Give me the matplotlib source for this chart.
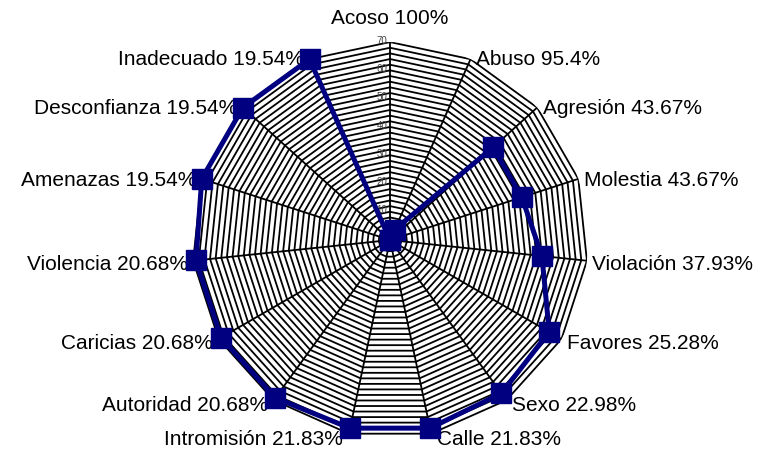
import numpy as np
import matplotlib
matplotlib.use("Agg")
import matplotlib.pyplot as plt

plt.rcParams["font.family"] = ["Liberation Sans", "DejaVu Sans"]

categories = ["Acoso", "Abuso", "Agresión", "Molestia", "Violación", "Favores",
              "Sexo", "Calle", "Intromisión", "Autoridad", "Caricias",
              "Violencia", "Amenazas", "Desconfianza", "Inadecuado"]
percent = [100, 95.4, 43.67, 43.67, 37.93, 25.28, 22.98, 21.83, 21.83,
           20.68, 20.68, 20.68, 19.54, 19.54, 19.54]
values = [0, 4, 49, 49, 54, 65, 67, 68, 68, 69, 69, 69, 70, 70, 70]
ring_levels = np.arange(2, 71, 2)
tick_labels = [10, 20, 30, 40, 50, 60, 70]

n = len(categories)
theta = np.arange(n) * 2 * np.pi / n
theta_closed = np.append(theta, theta[0])

fig = plt.figure(figsize=(7.69, 4.53), dpi=100)
ax = fig.add_axes([0.2497, 0.0331, 0.515, 0.874], projection="polar")
ax.set_theta_zero_location("N")
ax.set_theta_direction(-1)

# polygon rings + spokes, excel style
for lev in ring_levels:
    ax.plot(theta_closed, [lev] * (n + 1), color="black", lw=1.3, zorder=1)
for t in theta:
    ax.plot([t, t], [0, ring_levels[-1]], color="black", lw=1.3, zorder=1)

for v in tick_labels:
    ax.annotate(str(v), xy=(0, v), xytext=(-2, 1), textcoords="offset points",
                ha="right", va="center", fontsize=7, color="#444444", zorder=3)

vals_closed = values + [values[0]]
ax.plot(theta_closed, vals_closed, color="#000080", lw=3.6, marker="s",
        markersize=15, clip_on=False, zorder=5)

for t, cat, p in zip(theta, categories, percent):
    label = f"{cat} {p:g}%"
    deg = np.degrees(t)
    dy = -(3 - 3 * np.cos(t)) * 0.72
    if deg == 0:
        ax.annotate(label, xy=(t, 70), xytext=(0, 17), textcoords="offset points",
                    ha="center", va="center", fontsize=15)
    elif deg < 180:
        ax.annotate(label, xy=(t, 70), xytext=(4, dy), textcoords="offset points",
                    ha="left", va="center", fontsize=15)
    else:
        ax.annotate(label, xy=(t, 70), xytext=(-4, dy), textcoords="offset points",
                    ha="right", va="center", fontsize=15)

ax.set_ylim(0, 70)
ax.axis("off")

fig.savefig("out.png", dpi=100)
